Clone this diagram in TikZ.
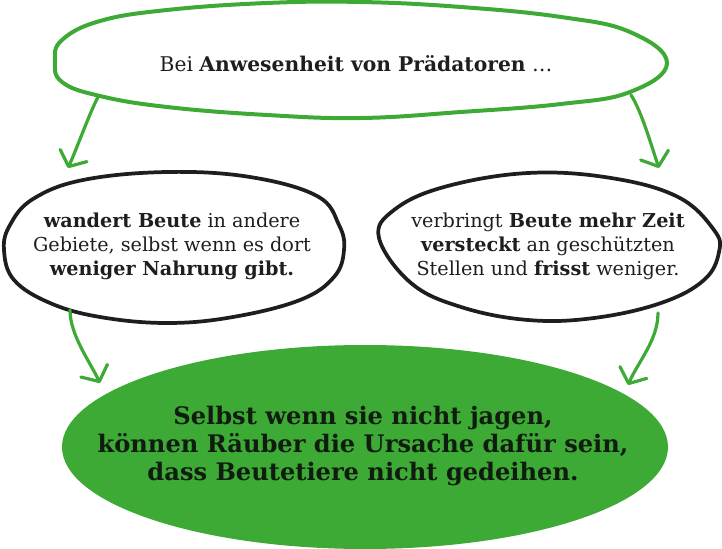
\documentclass[tikz,border=0pt]{standalone}
\usepackage{fontspec}
\setmainfont{DejaVu Serif}
\usetikzlibrary{arrows.meta,shapes.geometric}
\definecolor{lgreen}{RGB}{61,170,53}
\definecolor{ink}{RGB}{30,30,30}
\definecolor{darkink}{RGB}{16,28,16}
\tikzset{
  greenline/.style={draw=lgreen, line width=3pt, line join=round},
  blackline/.style={draw=ink, line width=2.8pt, line join=round},
  flow/.style={draw=lgreen, line width=2.4pt, line cap=round,
    -{Straight Barb[length=9pt, width=22pt, round]}},
  sidetext/.style={align=center, text=ink, font=\fontsize{14.4}{18}\selectfont},
}
\begin{document}
\begin{tikzpicture}[x=0.75pt, y=-0.75pt]
\useasboundingbox (0,0) rectangle (722,549);
% top outline
\draw[greenline] plot[smooth cycle, tension=0.7] coordinates {
 (55,61) (62,40) (100,21) (167,10) (267,3) (361,2) (461,7) (561,17) (630,32) (667,63)
 (630,92) (561,104) (461,112) (361,118) (267,115) (167,107) (100,96) (62,82)};
\node[align=center, text=ink, font=\fontsize{15.2}{18}\selectfont] (top) at (356,64)
  {Bei \textbf{Anwesenheit von Prädatoren} …};
% left outline
\draw[blackline] plot[smooth cycle, tension=0.65] coordinates {
 (4,250) (10,225) (33,199) (83,180) (167,172) (250,177) (317,196) (339,225) (344,250)
 (334,277) (300,300) (233,317) (167,323) (100,317) (50,303) (14,280)};
\node[sidetext] (left) at (172,246)
  {\textbf{wandert Beute} in andere\\Gebiete, selbst wenn es dort\\\textbf{weniger Nahrung gibt.}};
% right outline
\draw[blackline] plot[smooth cycle, tension=0.65] coordinates {
 (379,238) (394,210) (444,187) (528,173) (611,178) (678,197) (714,230) (719,252)
 (704,280) (661,303) (594,318) (528,320) (461,307) (411,283)};
\node[sidetext] (right) at (548,246)
  {verbringt \textbf{Beute mehr Zeit}\\\textbf{versteckt} an geschützten\\Stellen und \textbf{frisst} weniger.};
% bottom
\node[ellipse, fill=lgreen, minimum width=454.5pt, minimum height=153pt, inner sep=0pt] (bottomshape) at (365,447) {};
\node[align=center, text=darkink, font=\bfseries\fontsize{18.1}{21}\selectfont] (bottom) at (363,446)
  {Selbst wenn sie nicht jagen,\\können Räuber die Ursache dafür sein,\\dass Beutetiere nicht gedeihen.};
% connector end points
\coordinate (topL) at (98,97);
\coordinate (topR) at (631,95);
\coordinate (leftIn) at (68,168);
\coordinate (rightIn) at (659,168);
\coordinate (leftOut) at (70,310);
\coordinate (rightOut) at (658,313);
\coordinate (botL) at (100,383);
\coordinate (botR) at (628,385);
\draw[flow] (topL) .. controls (90,112) and (77,148) .. (leftIn);
\draw[flow] (topR) .. controls (642,112) and (652,148) .. (rightIn);
\draw[flow] (leftOut) .. controls (70,335) and (90,362) .. (botL);
\draw[flow] (rightOut) .. controls (658,340) and (638,362) .. (botR);
\end{tikzpicture}
\end{document}
